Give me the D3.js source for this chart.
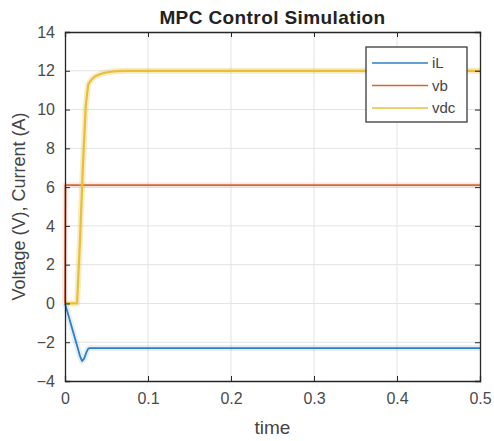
<!DOCTYPE html>
<html>
<head>
<meta charset="utf-8">
<script src="https://cdn.jsdelivr.net/npm/d3@7"></script>
<style>
  body { margin: 0; background: #fff; }
  svg { font-family: Arial, "Liberation Sans", Helvetica, sans-serif; }
  .grid line { stroke: #e3e3e3; stroke-width: 1; }
  .axis path, .axis line { stroke: #262626; }
  .axis text { fill: #4a4a4a; font-size: 16px; }
</style>
</head>
<body>
<svg id="chart"></svg>
<script>
// time samples and series
const iLTime = [0, 0.005, 0.01, 0.015, 0.018, 0.0205, 0.023, 0.026, 0.028, 0.03, 0.5];
const iLValues = [0, -0.75, -1.5, -2.25, -2.7, -2.97, -2.85, -2.5, -2.33, -2.3, -2.3];

const vbTime = [0, 0.0005, 0.5];
const vbValues = [0, 6.1, 6.1];

const vdcTime = [0, 0.0145, 0.018, 0.0217, 0.025, 0.028, 0.032, 0.036, 0.042, 0.048, 0.055, 0.062, 0.072, 0.5];
const vdcValues = [0, 0, 3.2, 7.2, 10.2, 11.3, 11.55, 11.7, 11.82, 11.9, 11.95, 11.98, 12, 12];

const xTicks = [0, 0.1, 0.2, 0.3, 0.4, 0.5];
const yTicks = [-4, -2, 0, 2, 4, 6, 8, 10, 12, 14];
const seriesNames = ['iL', 'vb', 'vdc'];
const seriesColors = ['#2f7fc1', '#d9643a', '#e8bf3a'];
const haloOpacity = [0.12, 0.12, 0.3];

const config = {
  width: 494, height: 441,
  margin: {top: 32, right: 14, bottom: 60, left: 65}
};

const svg = d3.select('#chart')
    .attr('width', config.width)
    .attr('height', config.height);

const w = config.width - config.margin.left - config.margin.right;
const h = config.height - config.margin.top - config.margin.bottom;

const chart = svg.append('g')
    .attr('transform', `translate(${config.margin.left},${config.margin.top})`);

const xScale = d3.scaleLinear().domain([0, 0.5]).range([0, w]);
const yScale = d3.scaleLinear().domain([-4, 14]).range([h, 0]);

// grid
chart.append('g').attr('class', 'grid')
  .selectAll('line').data(xTicks.slice(1, -1)).join('line')
    .attr('x1', d => xScale(d)).attr('x2', d => xScale(d))
    .attr('y1', 0).attr('y2', h);
chart.append('g').attr('class', 'grid')
  .selectAll('line').data(yTicks.slice(1, -1)).join('line')
    .attr('x1', 0).attr('x2', w)
    .attr('y1', d => yScale(d)).attr('y2', d => yScale(d));

// series
const series = [
  {name: 'iL', t: iLTime, v: iLValues},
  {name: 'vb', t: vbTime, v: vbValues},
  {name: 'vdc', t: vdcTime, v: vdcValues}
];
const line = d3.line().x(d => xScale(d[0])).y(d => yScale(d[1]));

series.forEach((s, i) => {
  const pts = s.t.map((t, j) => [t, s.v[j]]);
  // soft halo like the jpeg blur
  chart.append('path')
      .attr('d', line(pts))
      .attr('fill', 'none')
      .attr('stroke', seriesColors[i])
      .attr('stroke-opacity', haloOpacity[i])
      .attr('stroke-width', 6)
      .attr('stroke-linejoin', 'round');
  chart.append('path')
      .attr('d', line(pts))
      .attr('fill', 'none')
      .attr('stroke', seriesColors[i])
      .attr('stroke-width', i === 2 ? 2.2 : 1.8)
      .attr('stroke-linejoin', 'round');
});

// axes (ticks inward, box on all sides)
const xAxisB = d3.axisBottom(xScale).tickValues(xTicks).tickSize(-5).tickPadding(12)
    .tickFormat(d => d === 0 ? '0' : d3.format('.1f')(d));
const xAxisT = d3.axisTop(xScale).tickValues(xTicks).tickSize(-5).tickFormat('');
const yAxisL = d3.axisLeft(yScale).tickValues(yTicks).tickSize(-5).tickPadding(10);
const yAxisR = d3.axisRight(yScale).tickValues(yTicks).tickSize(-5).tickFormat('');

chart.append('g').attr('class', 'axis').attr('transform', `translate(0,${h})`).call(xAxisB);
chart.append('g').attr('class', 'axis').call(xAxisT);
chart.append('g').attr('class', 'axis').call(yAxisL);
chart.append('g').attr('class', 'axis').attr('transform', `translate(${w},0)`).call(yAxisR);
chart.selectAll('.axis path').attr('stroke-width', 1.3);

// legend
const legend = chart.append('g')
    .attr('transform', `translate(${366 - config.margin.left},${47 - config.margin.top})`);
legend.append('rect')
    .attr('width', 101).attr('height', 75)
    .attr('fill', '#fff').attr('stroke', '#3a3a3a').attr('stroke-width', 1.3);
seriesNames.forEach((n, i) => {
  const y = 16 + i * 22.5;
  legend.append('line')
      .attr('x1', 6).attr('x2', 62).attr('y1', y).attr('y2', y)
      .attr('stroke', seriesColors[i]).attr('stroke-width', 1.5);
  legend.append('text')
      .attr('x', 66).attr('y', y).attr('dy', '0.35em')
      .attr('fill', '#444').style('font-size', '15px')
      .text(n);
});

// titles
svg.append('text')
    .attr('x', config.margin.left + w / 2).attr('y', 24)
    .attr('text-anchor', 'middle')
    .style('font-size', '19px').style('font-weight', 'bold').attr('fill', '#222')
    .style('letter-spacing', '0.4px')
    .text('MPC Control Simulation');
svg.append('text')
    .attr('x', config.margin.left + w / 2).attr('y', 434)
    .attr('text-anchor', 'middle')
    .style('font-size', '19px').attr('fill', '#444')
    .text('time');
svg.append('text')
    .attr('transform', `translate(25,${config.margin.top + h / 2}) rotate(-90)`)
    .attr('text-anchor', 'middle')
    .style('font-size', '18px').attr('fill', '#444')
    .text('Voltage (V), Current (A)');
</script>
</body>
</html>
